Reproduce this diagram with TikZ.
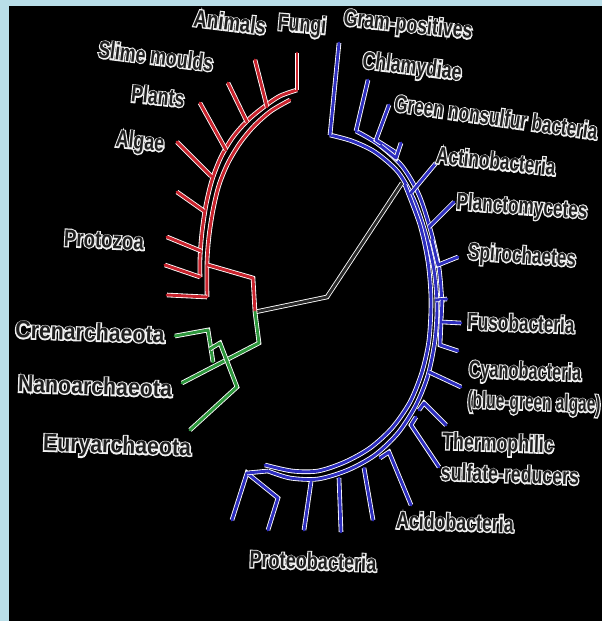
\documentclass[tikz,border=0pt]{standalone}
\usepackage{fontspec}
\setmainfont{Liberation Sans}
\newfontfamily\taxonfont[FakeStretch=0.74]{Liberation Sans}
\newfontfamily\halofont[FakeStretch=0.74, FakeBold=10]{Liberation Sans}

\definecolor{frameblue}{RGB}{185,222,232}
\definecolor{eukred}{RGB}{200,35,45}
\definecolor{bactblue}{RGB}{45,45,190}
\definecolor{archgreen}{RGB}{45,150,60}
\definecolor{rootgray}{RGB}{40,40,40}
\definecolor{taxongray}{RGB}{30,30,30}
\definecolor{halogray}{RGB}{240,240,240}

\tikzset{
  branch/.style={line width=2.9pt, line cap=round, line join=round,
    preaction={draw=white, line width=4.6pt}},
  taxon/.style={inner sep=0pt, text=taxongray,
    font=\taxonfont\bfseries\fontsize{24}{24}\selectfont},
  taxonhalo/.style={inner sep=0pt, text=halogray,
    font=\halofont\bfseries\fontsize{24}{24}\selectfont},
}

\begin{document}
\begin{tikzpicture}[x=1pt, y=-1pt]
    \useasboundingbox (0,0) rectangle (602,621);
    % Frame and background
    \fill[frameblue] (0,0) rectangle (602,621);
    \fill[black] (9,6) rectangle (602,621);

    % Root line
    \draw[branch, rootgray] (255,312) -- (327,297) -- (402,183);

    % Eukaryotes
    \draw[branch, eukred] plot[smooth] coordinates {(297,90) (280,96) (265,106) (248,120) (233,137) (221,157) (212,180) (206,205) (202,232) (200,258) (200,277)};
    \draw[branch, eukred] plot[smooth] coordinates {(290,100) (271,111) (254,126) (240,143) (228,163) (219,185) (213,210) (209,236) (207,262) (207,297)};
    \draw[branch, eukred] (297,53) -- (297,90);
    \draw[branch, eukred] (255,60) -- (267,107);
    \draw[branch, eukred] (228,83) -- (247,122);
    \draw[branch, eukred] (200,103) -- (226,150);
    \draw[branch, eukred] (177,142) -- (211,176);
    \draw[branch, eukred] (177,192) -- (204,211);
    \draw[branch, eukred] (167,237) -- (201,251);
    \draw[branch, eukred] (165,265) -- (200,277);
    \draw[branch, eukred] (167,295) -- (207,297);
    \draw[branch, eukred] (208,265) -- (253,278) -- (255,312);

    % Archaea
    \draw[branch, archgreen] (255,312) -- (259,343) -- (182,383);
    \draw[branch, archgreen] (175,336) -- (208,330) -- (213,362);
    \draw[branch, archgreen] (210,349) -- (220,343) -- (237,387) -- (190,430);

    % Bacteria
    \draw[branch, bactblue] plot[smooth] coordinates {(330,135) (352,141) (375,152) (398,172) (414,200) (426,235) (434,270) (437,305) (435,340) (428,375) (416,405) (398,433) (375,455) (348,470) (318,479) (290,478) (268,471)};
    \draw[branch, bactblue] plot[smooth] coordinates {(356,131) (378,144) (402,166) (419,195) (431,232) (439,268) (442,303)};
    \draw[branch, bactblue] plot[smooth] coordinates {(405,185) (420,225) (428,262) (431,300) (429,340) (422,372) (410,402) (392,428) (370,448) (345,462) (318,471) (292,471) (265,465)};
    \draw[branch, bactblue] (339,43) -- (330,135);
    \draw[branch, bactblue] (368,80) -- (356,131);
    \draw[branch, bactblue] (389,105) -- (376,140) -- (395,152);
    \draw[branch, bactblue] (381,146) -- (396,158) -- (401,143);
    \draw[branch, bactblue] (436,163) -- (411,193);
    \draw[branch, bactblue] (454,202) -- (429,227);
    \draw[branch, bactblue] (458,257) -- (438,265) -- (432,240);
    \draw[branch, bactblue] (436,300) -- (447,299);
    \draw[branch, bactblue] (442,300) -- (440,345) -- (458,351);
    \draw[branch, bactblue] (461,323) -- (442,322);
    \draw[branch, bactblue] (461,387) -- (429,372);
    \draw[branch, bactblue] (446,425) -- (424,403) -- (419,410);
    \draw[branch, bactblue] (439,467) -- (411,425) -- (416,417);
    \draw[branch, bactblue] (380,458) -- (389,452) -- (411,505);
    \draw[branch, bactblue] (373,520) -- (364,468);
    \draw[branch, bactblue] (341,532) -- (339,478);
    \draw[branch, bactblue] (304,530) -- (311,482);
    \draw[branch, bactblue] (232,520) -- (247,473) -- (278,498) -- (268,530);
    \draw[branch, bactblue] (247,473) -- (268,471);

    % Taxon labels (name/x/y/rotation/width/text), light rim under dark text
    \foreach \nm/\x/\y/\r/\s/\txt in {
        anim/230/22/-7/1.05/Animals, fung/302/26/-5/1/Fungi,
        gram/408/26/-6/1/Gram-positives, slim/156/56/-7/1/Slime moulds,
        chla/412/68/-7/1/Chlamydiae, plnt/158/96/-6/1/Plants,
        gnsb/496/117/-8/0.97/Green nonsulfur bacteria, alga/140/143/-6/1/Algae,
        acti/496/161/-6/0.97/Actinobacteria, prot/104/240/-3/1.05/Protozoa,
        plct/522/208/-4/0.97/Planctomycetes, spir/522/257/-4/0.97/Spirochaetes,
        fuso/521/323/-2/0.97/Fusobacteria, cren/90/332/-2/1.2/Crenarchaeota,
        cyan/525/373/-2/0.92/Cyanobacteria, bgal/534/404/-2/0.87/(blue-green algae),
        nano/95/386/-2/1.2/Nanoarchaeota, ther/498/445/-2/1/Thermophilic,
        sulf/510/474/-2/1/sulfate-reducers, eury/117/447/-2/1.2/Euryarchaeota,
        acid/455/522/-2/1/Acidobacteria, prbt/313/561/-2/1.02/Proteobacteria} {
        \node[taxonhalo, rotate=\r, xscale=\s] (\nm-rim) at (\x,\y) {\txt};
        \node[taxon, rotate=\r, xscale=\s] (\nm) at (\x,\y) {\txt};
    }
\end{tikzpicture}
\end{document}
